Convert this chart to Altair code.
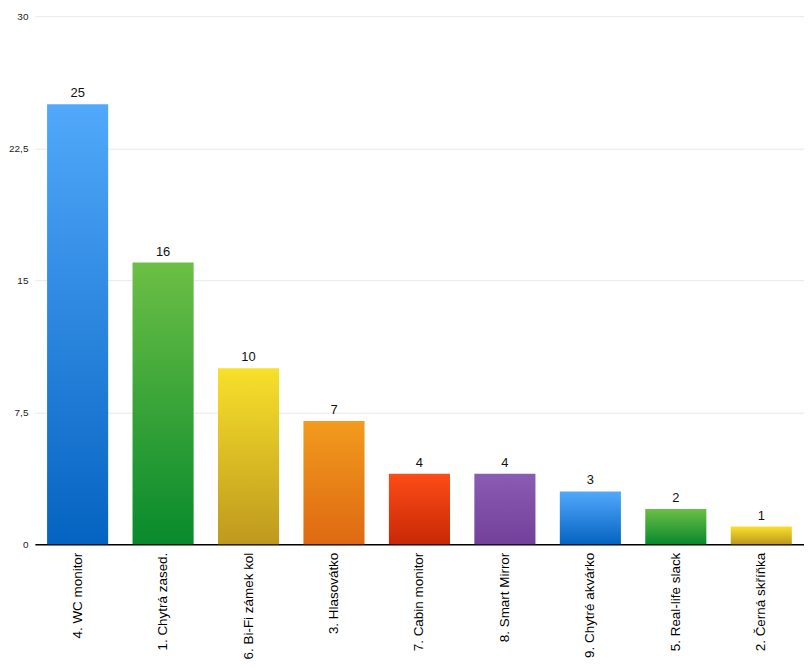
import altair as alt
import pandas as pd

categories = [
    "4. WC monitor",
    "1. Chytrá zased.",
    "6. Bi-Fi zámek kol",
    "3. Hlasovátko",
    "7. Cabin monitor",
    "8. Smart Mirror",
    "9. Chytré akvárko",
    "5. Real-life slack",
    "2. Černá skříňka",
]
votes = [25, 16, 10, 7, 4, 4, 3, 2, 1]
y_ticks = [0, 7.5, 15, 22.5, 30]

grad_top = ["#52A9FB", "#6CBF45", "#F8E02B", "#F29B1E", "#FC4C17", "#8A5CB4",
            "#52A9FB", "#6CBF45", "#F8E02B"]
grad_bottom = ["#0563C1", "#088A2C", "#BE991E", "#DE6912", "#C92806", "#73409A",
               "#0563C1", "#088A2C", "#BE991E"]

df = pd.DataFrame({"cat": categories, "votes": votes})

FONT = "Liberation Sans"

x_enc = alt.X(
    "cat:N",
    sort=categories,
    scale=alt.Scale(domain=categories, paddingInner=0.285, paddingOuter=0.1425),
    axis=alt.Axis(title=None, labelAngle=-90, ticks=False, labelPadding=8,
                  labelFontSize=13.5, labelColor="#000", labelFont=FONT,
                  domainColor="#000", domainWidth=1.5, grid=False),
)
y_enc = alt.Y(
    "votes:Q",
    scale=alt.Scale(domain=[0, 30], nice=False),
    axis=alt.Axis(title=None, values=y_ticks,
                  labelExpr="replace(format(datum.value, '~g'), '.', ',')",
                  ticks=False, domain=False, grid=True, gridColor="#E8E8E8",
                  labelFontSize=10, labelColor="#222", labelFont=FONT, labelPadding=7),
)

layers = []
for i, c in enumerate(categories):
    grad = alt.Gradient(
        gradient="linear",
        stops=[alt.GradientStop(color=grad_top[i], offset=0),
               alt.GradientStop(color=grad_bottom[i], offset=1)],
        x1=0, x2=0, y1=0, y2=1,
    )
    layers.append(
        alt.Chart(df)
        .transform_filter(alt.FieldEqualPredicate(field="cat", equal=c))
        .mark_bar(color=grad)
        .encode(x=x_enc, y=y_enc)
    )

text = alt.Chart(df).mark_text(
    baseline="bottom", dy=-4, fontSize=13, font=FONT, color="#111"
).encode(x=x_enc, y=y_enc, text="votes:Q")

chart = (
    alt.layer(*layers, text)
    .properties(width=772, height=530,
                padding={"left": 0, "top": 2, "right": 0, "bottom": 0})
    .configure_view(stroke=None)
)

chart.save("out.html", embed_options={"renderer": "svg", "actions": False})
